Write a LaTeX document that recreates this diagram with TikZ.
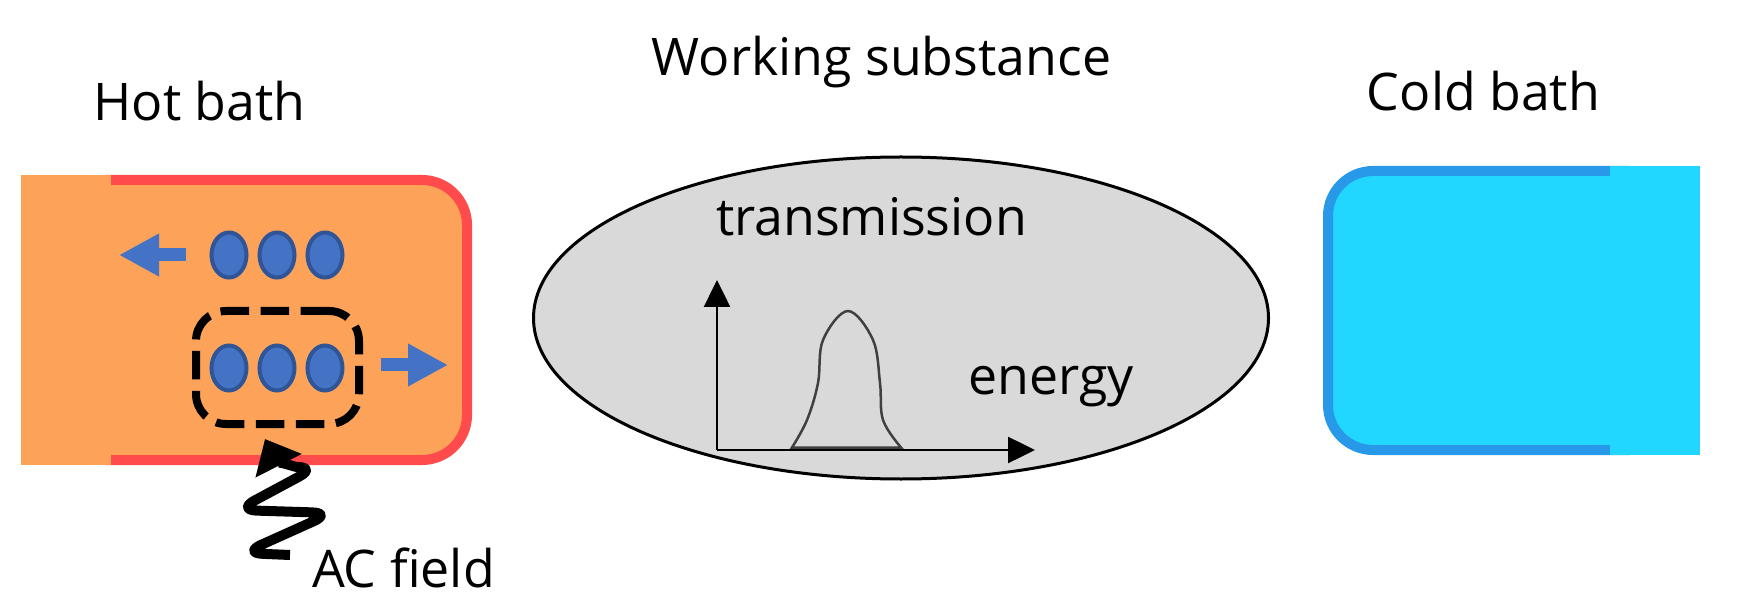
\documentclass[tikz,border=0pt]{standalone}
\usepackage{fontspec}
\setmainfont{Open Sans}
\usetikzlibrary{arrows.meta}
\definecolor{hotfill}{RGB}{253,163,89}
\definecolor{hotedge}{RGB}{255,75,75}
\definecolor{coldfill}{RGB}{34,215,255}
\definecolor{coldedge}{RGB}{40,153,232}
\definecolor{dotblue}{RGB}{68,114,196}
\definecolor{dotedge}{RGB}{47,85,151}
\definecolor{wsgray}{RGB}{217,217,217}

\begin{document}
\begin{tikzpicture}[lbl/.style={inner sep=0pt,anchor=base,font=\fontsize{29.5}{34}\selectfont},
  flow/.style={dotblue,line width=0.26cm,-{Triangle[length=0.8cm,width=0.8cm]}},
  axis/.style={line width=0.05cm,-{Triangle[length=0.54cm,width=0.52cm]}}]
\useasboundingbox (0,0) rectangle (34.88,12.12);
\draw[hotedge,fill=hotfill,line width=0.2cm,rounded corners=0.9cm] (1.2,2.92) rectangle (9.34,8.52);
\fill[hotfill] (0.42,2.82) rectangle (2.22,8.62);
\draw[coldedge,fill=coldfill,line width=0.2cm,rounded corners=0.9cm] (26.56,3.12) rectangle (33.5,8.70);
\fill[coldfill] (32.2,3.02) rectangle (34.0,8.80);
\draw[line width=0.06cm,fill=wsgray] (18.02,5.76) ellipse (7.35 and 3.22);
\node[lbl] (hot) at (3.99,9.70) {Hot bath};
\node[lbl] (ws) at (17.63,10.60) {Working substance};
\node[lbl] (cold) at (29.67,9.90) {Cold bath};
\node[lbl] (tr) at (17.43,7.40) {transmission};
\node[lbl] (en) at (21.02,4.22) {energy};
\node[lbl] (ac) at (8.07,0.38) {AC field};
\foreach \x in {4.58,5.54,6.50}{
  \filldraw[fill=dotblue,draw=dotedge,line width=0.08cm] (\x,7.02) ellipse (0.35 and 0.45);
  \filldraw[fill=dotblue,draw=dotedge,line width=0.08cm] (\x,4.76) ellipse (0.35 and 0.45);
}
\draw[flow] (3.72,7.02) -- (2.38,7.02);
\draw[flow] (7.62,4.82) -- (8.96,4.82);
\node[draw,line width=0.16cm,dash pattern=on 0.57cm off 0.23cm,rounded corners=0.6cm,minimum width=3.26cm,minimum height=2.26cm] (pair) at (5.55,4.77) {};
\coordinate (acstart) at (5.80,1.02);
\coordinate (actip) at (5.30,3.34);
\draw[line width=0.2cm,line join=round,rounded corners=0.4cm,-{Triangle[length=0.6cm,width=1cm]}] (acstart) -- (4.86,1.06) -- (6.64,1.86) -- (4.74,1.92) -- (6.34,2.78) to[out=180,in=-63] (actip);
\coordinate (o) at (14.34,3.12);
\draw[axis] (o) -- (14.34,6.52);
\draw[axis] (o) -- (20.70,3.12);
\draw[black!75,line width=0.05cm] plot[smooth,tension=0.6] coordinates {(15.84,3.17) (16.14,3.72) (16.36,4.46) (16.46,5.32) (16.96,5.90) (17.46,5.32) (17.60,4.46) (17.66,3.72) (18.02,3.17)} -- cycle;
\end{tikzpicture}
\end{document}
